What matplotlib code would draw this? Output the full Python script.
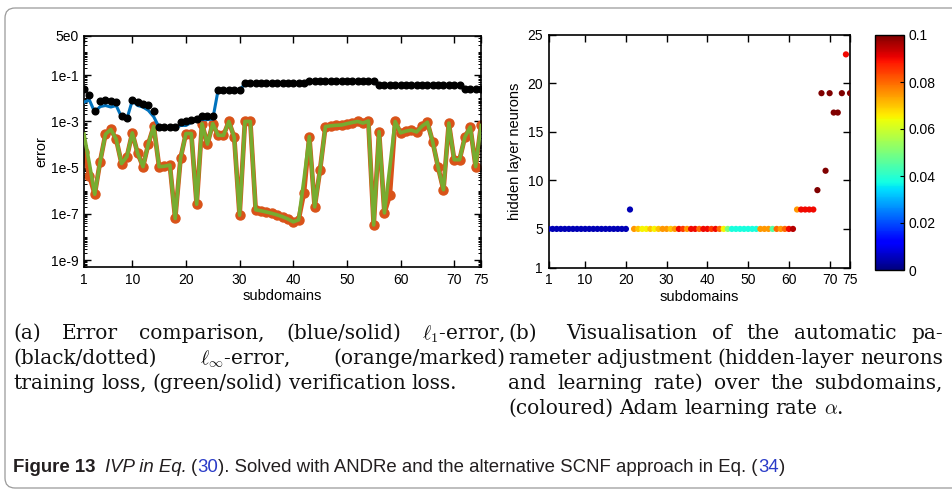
import numpy as np
import matplotlib.pyplot as plt
from matplotlib.patches import FancyBboxPatch
from matplotlib.ticker import FixedLocator, NullFormatter

plt.rcParams['font.family'] = ['Liberation Sans', 'DejaVu Sans']
plt.rcParams['mathtext.fontset'] = 'cm'

W, H = 953, 497

# ---- data (a): errors / losses per subdomain ----
subdomains = np.arange(1, 76)

linf_error = [2.5e-2, 1.4e-2, 2.7e-3, 7.7e-3, 8.8e-3, 7.4e-3, 6.7e-3, 1.8e-3, 1.4e-3, 8.8e-3,
              6.7e-3, 5.7e-3, 5.2e-3, 2.8e-3, 5.8e-4, 5.8e-4, 5.8e-4, 5.8e-4, 9.3e-4, 1.07e-3,
              1.2e-3, 1.3e-3, 1.65e-3, 1.7e-3, 1.75e-3, 2.4e-2, 2.4e-2, 2.4e-2, 2.4e-2, 2.4e-2,
              4.4e-2, 4.4e-2, 4.4e-2, 4.4e-2, 4.4e-2, 4.4e-2, 4.4e-2, 4.4e-2, 4.4e-2, 4.4e-2,
              4.4e-2, 4.4e-2, 5.5e-2, 5.5e-2, 5.5e-2, 5.5e-2, 5.5e-2, 5.5e-2, 5.5e-2, 5.5e-2,
              5.5e-2, 5.5e-2, 5.5e-2, 5.5e-2, 5.5e-2, 3.7e-2, 3.7e-2, 3.7e-2, 3.7e-2, 3.7e-2,
              3.7e-2, 3.7e-2, 3.7e-2, 3.7e-2, 3.7e-2, 3.7e-2, 3.7e-2, 3.7e-2, 3.7e-2, 3.7e-2,
              3.7e-2, 2.6e-2, 2.6e-2, 2.6e-2, 2.6e-2]

l1_error = [6.8e-3, 8.5e-3, 2.5e-3, 4.4e-3, 4.9e-3, 4.2e-3, 4.9e-3, 1.55e-3, 1.3e-3, 8.0e-3,
            4.9e-3, 4.2e-3, 3.0e-3, 1.6e-3, 5.5e-4, 5.3e-4, 5.3e-4, 5.3e-4, 6.7e-4, 6.7e-4,
            9.0e-4, 1.15e-3, 1.2e-3, 1.2e-3, 1.25e-3, 2.3e-2, 2.3e-2, 2.3e-2, 2.3e-2, 2.3e-2,
            4.2e-2, 4.2e-2, 4.2e-2, 4.2e-2, 4.2e-2, 4.2e-2, 4.2e-2, 4.2e-2, 4.2e-2, 4.2e-2,
            4.2e-2, 4.2e-2, 5.3e-2, 5.3e-2, 5.3e-2, 5.3e-2, 5.3e-2, 5.3e-2, 5.3e-2, 5.3e-2,
            5.3e-2, 5.3e-2, 5.3e-2, 5.3e-2, 5.3e-2, 3.5e-2, 3.5e-2, 3.5e-2, 3.5e-2, 3.5e-2,
            3.5e-2, 3.5e-2, 3.5e-2, 3.5e-2, 3.5e-2, 3.5e-2, 3.5e-2, 3.5e-2, 3.5e-2, 3.5e-2,
            3.5e-2, 2.5e-2, 2.5e-2, 2.5e-2, 2.5e-2]

train_loss = [4.9e-5, 4.5e-6, 7.0e-7, 1.8e-5, 2.8e-4, 4.5e-4, 1.7e-4, 1.5e-5, 3.0e-5, 3.2e-4,
              4.2e-5, 1.1e-5, 1.1e-4, 6.2e-4, 1.1e-5, 1.15e-5, 1.3e-5, 6.3e-8, 2.6e-5, 3.0e-4,
              3.0e-4, 2.6e-7, 8.1e-4, 1.04e-4, 8.1e-4, 2.5e-4, 2.5e-4, 1.0e-3, 2.1e-4, 8.7e-8,
              1.0e-3, 1.0e-3, 1.5e-7, 1.35e-7, 1.2e-7, 1.05e-7, 9.0e-8, 7.5e-8, 6.0e-8, 4.5e-8,
              5.5e-8, 8.1e-7, 2.2e-4, 2.0e-7, 8.1e-6, 6.0e-4, 6.5e-4, 6.8e-4, 7.0e-4, 8.0e-4,
              9.0e-4, 1.0e-3, 8.5e-4, 1.05e-3, 3.3e-8, 3.6e-4, 1.1e-7, 6.3e-7, 1.0e-3, 3.2e-4,
              3.8e-4, 4.2e-4, 3.5e-4, 6.2e-4, 9.3e-4, 1.3e-4, 1.05e-5, 1.1e-6, 8.5e-4, 2.2e-5,
              2.2e-5, 2.1e-4, 5.8e-4, 1.1e-5, 6.7e-4]

verif_loss = [2.8e-4, 1.5e-5, 7.0e-7, 1.8e-5, 2.8e-4, 4.5e-4, 1.7e-4, 1.5e-5, 3.0e-5, 3.2e-4,
              4.2e-5, 1.1e-5, 1.1e-4, 6.2e-4, 1.1e-5, 1.15e-5, 1.3e-5, 6.3e-8, 2.6e-5, 3.0e-4,
              3.0e-4, 2.6e-7, 8.1e-4, 1.04e-4, 8.1e-4, 2.5e-4, 2.5e-4, 1.0e-3, 2.1e-4, 8.7e-8,
              1.0e-3, 1.0e-3, 1.5e-7, 1.35e-7, 1.2e-7, 1.05e-7, 9.0e-8, 7.5e-8, 6.0e-8, 4.5e-8,
              5.5e-8, 3.0e-6, 2.2e-4, 2.0e-7, 8.1e-6, 6.0e-4, 6.5e-4, 6.8e-4, 7.0e-4, 8.0e-4,
              9.0e-4, 1.0e-3, 8.5e-4, 1.05e-3, 3.3e-8, 3.6e-4, 1.1e-7, 1.0e-5, 1.0e-3, 3.2e-4,
              3.8e-4, 4.2e-4, 3.5e-4, 6.2e-4, 9.3e-4, 1.3e-4, 1.05e-5, 1.1e-6, 8.5e-4, 2.2e-5,
              2.2e-5, 2.1e-4, 5.8e-4, 1.1e-5, 6.7e-4]

# ---- data (b): hidden layer neurons and Adam learning rate ----
neurons = [5, 5, 5, 5, 5, 5, 5, 5, 5, 5, 5, 5, 5, 5, 5, 5, 5, 5, 5, 5,
           7, 5, 5, 5, 5, 5, 5, 5, 5, 5, 5, 5, 5, 5, 5, 5, 5, 5, 5, 5,
           5, 5, 5, 5, 5, 5, 5, 5, 5, 5, 5, 5, 5, 5, 5, 5, 5, 5, 5, 5,
           5, 7, 7, 7, 7, 7, 9, 19, 11, 19, 17, 17, 19, 23, 19]

learning_rate = [0.005, 0.005, 0.005, 0.005, 0.005, 0.005, 0.005, 0.005, 0.005, 0.005,
                 0.005, 0.005, 0.005, 0.005, 0.005, 0.005, 0.005, 0.005, 0.005, 0.005,
                 0.005, 0.075, 0.07, 0.065, 0.065, 0.07, 0.065, 0.07, 0.075, 0.075,
                 0.07, 0.075, 0.09, 0.085, 0.075, 0.09, 0.09, 0.08, 0.09, 0.09,
                 0.085, 0.09, 0.08, 0.065, 0.05, 0.038, 0.038, 0.038, 0.038, 0.038,
                 0.038, 0.038, 0.075, 0.075, 0.075, 0.045, 0.08, 0.075, 0.08, 0.09,
                 0.095, 0.075, 0.09, 0.09, 0.09, 0.09, 0.1, 0.1, 0.1, 0.1,
                 0.1, 0.1, 0.1, 0.09, 0.1]

xticks = [1, 10, 20, 30, 40, 50, 60, 70, 75]

fig = plt.figure(figsize=(W / 100, H / 100), dpi=100)

# background axes in pixel units for frame and captions
bg = fig.add_axes([0, 0, 1, 1], zorder=-1)
bg.set_xlim(0, W)
bg.set_ylim(H, 0)
bg.axis('off')
bg.add_patch(FancyBboxPatch((5, 8), W + 20, 480, boxstyle='round,pad=0,rounding_size=10',
                            fc='none', ec='#9a9a9a', lw=0.9))

tick_fs = 10
lab_fs = 10.5

# ---- (a) ----
ax1 = fig.add_axes([84 / W, 1 - 267 / H, 397 / W, 231 / H])
ax1.plot(subdomains, train_loss, color='#D95319', lw=3.4, marker='o', ms=6.5, zorder=2)
ax1.plot(subdomains, verif_loss, color='#77AC30', lw=2.6, zorder=3)
ax1.plot(subdomains, l1_error, color='#0072BD', lw=2.2, zorder=4)
ax1.plot(subdomains, linf_error, ls='none', marker='o', ms=4.8, color='black', zorder=5)
ax1.set_yscale('log')
ax1.set_xlim(1, 75)
ax1.set_ylim(5e-10, 5e0)
ax1.set_xticks(xticks)
ax1.set_xticklabels([str(t) for t in xticks])
ax1.yaxis.set_major_locator(FixedLocator([5e0, 1e-1, 1e-3, 1e-5, 1e-7, 1e-9]))
ax1.set_yticklabels(['5e0', '1e-1', '1e-3', '1e-5', '1e-7', '1e-9'])
minor = [k * 10.0 ** n for n in range(-10, 1) for k in range(1, 10)
         if 5e-10 <= k * 10.0 ** n <= 5e0 and k * 10.0 ** n not in (1e-1, 1e-3, 1e-5, 1e-7, 1e-9)]
ax1.yaxis.set_minor_locator(FixedLocator(minor))
ax1.yaxis.set_minor_formatter(NullFormatter())
ax1.set_xlabel('subdomains', fontsize=lab_fs, labelpad=2)
ax1.set_ylabel('error', fontsize=lab_fs, labelpad=2)

# ---- (b) ----
ax2 = fig.add_axes([548.5 / W, 1 - 267.7 / H, 301.5 / W, 232.7 / H])
sc = ax2.scatter(subdomains, neurons, c=learning_rate, cmap='jet', vmin=0, vmax=0.1,
                 s=20, edgecolors='none', zorder=3)
ax2.set_xlim(1, 75)
ax2.set_ylim(1, 25)
ax2.set_xticks(xticks)
ax2.set_xticklabels([str(t) for t in xticks])
ax2.set_yticks([1, 5, 10, 15, 20, 25])
ax2.set_xlabel('subdomains', fontsize=lab_fs, labelpad=2)
ax2.set_ylabel('hidden layer neurons', fontsize=lab_fs, labelpad=4)

cax = fig.add_axes([875 / W, 1 - 270 / H, 29 / W, 235 / H])
cb = fig.colorbar(sc, cax=cax, ticks=[0, 0.02, 0.04, 0.06, 0.08, 0.1])
cb.ax.set_yticklabels(['0', '0.02', '0.04', '0.06', '0.08', '0.1'])
cb.ax.tick_params(direction='in', length=3, labelsize=tick_fs, width=0.8)
cb.outline.set_linewidth(1.0)

for ax in (ax1, ax2):
    ax.tick_params(which='both', direction='in', top=True, right=True, labelsize=tick_fs, pad=4)
    ax.tick_params(which='major', length=5, width=1.0)
    ax.tick_params(which='minor', length=2.5, width=0.7)
    for s in ax.spines.values():
        s.set_linewidth(1.2)

# ---- captions ----
fig.canvas.draw()
r = fig.canvas.get_renderer()
cap_font = ['DejaVu Serif']
cap_fs = 14.5


def put_line(words, x0, x1, y, justify=True):
    ts = [bg.text(x0, y, w, fontfamily=cap_font, fontsize=cap_fs, va='baseline', ha='left',
                  color='#111111') for w in words]
    ws = [t.get_window_extent(renderer=r).width for t in ts]
    space = cap_fs * 0.42
    if justify:
        gap = max((x1 - x0 - sum(ws)) / (len(ws) - 1), space * 0.8)
    else:
        gap = space
    x = x0
    for t, w in zip(ts, ws):
        t.set_x(x)
        x += w + gap


put_line(['(a)', 'Error', 'comparison,', '(blue/solid)', r'$\ell_1$-error,'], 13, 505, 339)
put_line(['(black/dotted)', r'$\ell_\infty$-error,', '(orange/marked)'], 13, 505, 364)
put_line(['training', 'loss,', '(green/solid)', 'verification', 'loss.'], 13, 505, 389, justify=False)

put_line(['(b)', '', 'Visualisation', 'of', 'the', 'automatic', 'pa-'], 508, 943, 339)
put_line(['rameter', 'adjustment', '(hidden-layer', 'neurons'], 508, 943, 364)
put_line(['and', 'learning', 'rate)', 'over', 'the', 'subdomains,'], 508, 943, 389)
put_line(['(coloured)', 'Adam', 'learning', 'rate', r'$\alpha$.'], 508, 943, 414, justify=False)

# figure caption
fc_fs = 13.4
fam = ['Liberation Sans', 'DejaVu Sans']
parts = [('Figure 13', 'bold', 'normal', '#231f20', 10),
         ('IVP in Eq.', 'normal', 'italic', '#231f20', 4),
         ('(', 'normal', 'normal', '#231f20', 0),
         ('30', 'normal', 'normal', '#2a3bc8', 0),
         ('). Solved with ANDRe and the alternative SCNF approach in Eq. (', 'normal', 'normal', '#231f20', 0),
         ('34', 'normal', 'normal', '#2a3bc8', 0),
         (')', 'normal', 'normal', '#231f20', 0)]
x = 13
for txt, fw, st, col, after in parts:
    t = bg.text(x, 472, txt, fontfamily=fam, fontsize=fc_fs, fontweight=fw, fontstyle=st,
                color=col, va='baseline', ha='left')
    x += t.get_window_extent(renderer=r).width + after

fig.savefig('out.png', dpi=100)
